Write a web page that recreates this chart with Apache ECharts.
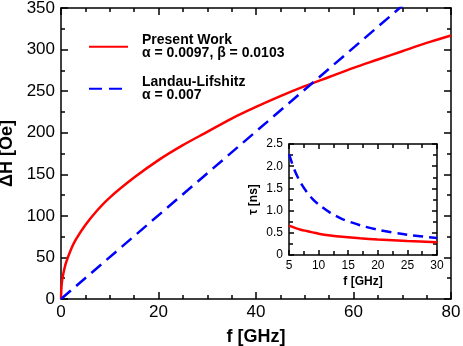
<!DOCTYPE html>
<html>
<head>
<meta charset="utf-8">
<script src="https://cdn.jsdelivr.net/npm/echarts@6/dist/echarts.min.js"></script>
<style>
html, body { margin: 0; padding: 0; background: #fff; }
#main { width: 463px; height: 346px; }
</style>
</head>
<body>
<div id="main"></div>
<script>
// main panel: linewidth vs frequency
var fMain = [0, 0.1, 0.25, 0.5, 1, 2, 3, 5, 7.5, 10, 15, 20, 25, 30, 35, 40, 45, 50, 55, 60, 65, 70, 75, 80];
var dhPresent = [0, 15, 23, 31, 43, 59, 71, 89, 107, 122, 146, 167, 185, 201, 217, 231, 244, 256, 267, 278, 288, 298, 308, 317];
var fLL = [0, 80];
var dhLL = [0, 403];

// inset: relaxation time
var fInset = [5, 6, 7, 8, 9, 10, 12, 14, 17, 20, 25, 30];
var tauPresent = [0.66, 0.61, 0.57, 0.54, 0.51, 0.48, 0.44, 0.41, 0.376, 0.35, 0.315, 0.287];
var tauLL = [2.27, 1.89, 1.62, 1.42, 1.26, 1.14, 0.95, 0.81, 0.67, 0.57, 0.455, 0.385];

var legendPresent = 'Present Work\nα = 0.0097, β = 0.0103';
var legendLL = 'Landau-Lifshitz\nα = 0.007';

function pairs(xs, ys) {
	var out = [];
	for (var i = 0; i < xs.length; i++) {
		out.push([xs[i], ys[i]]);
	}
	return out;
}

var FONT = '"Liberation Sans", Arial, sans-serif';

// common axis piece
function axis(opt) {
	var a = {
		type: 'value',
		min: opt.min,
		max: opt.max,
		interval: opt.interval,
		position: opt.position,
		gridIndex: opt.grid,
		axisLine: { show: true, onZero: false, lineStyle: { color: '#000', width: 1.5 } },
		axisTick: { show: true, inside: true, length: opt.tick, lineStyle: { color: '#000', width: 1.5 } },
		minorTick: { show: true, splitNumber: opt.minor, length: 4, lineStyle: { color: '#000', width: 1.5 } },
		splitLine: { show: false },
		axisLabel: { show: false }
	};
	if (opt.labels) {
		a.axisLabel = {
			show: true,
			color: '#000',
			fontFamily: FONT,
			fontSize: opt.fontSize,
			margin: opt.margin
		};
		if (opt.formatter) {
			a.axisLabel.formatter = opt.formatter;
		}
	}
	if (opt.name) {
		a.name = opt.name;
		a.nameLocation = 'middle';
		a.nameGap = opt.nameGap;
		a.nameTextStyle = { color: '#000', fontFamily: FONT, fontWeight: 'bold', fontSize: opt.nameSize };
	}
	return a;
}

var chart = echarts.init(document.getElementById('main'));

chart.setOption({
	animation: false,
	grid: [
		{ left: 61, right: 12, top: 8, bottom: 47, containLabel: false, outerBoundsMode: 'none' },
		{ left: 289, right: 26, top: 144, bottom: 91, containLabel: false, outerBoundsMode: 'none' }
	],
	legend: {
		orient: 'vertical',
		left: 88,
		top: 33,
		padding: 0,
		itemWidth: 39,
		itemHeight: 14,
		itemGap: 14.5,
		itemStyle: { opacity: 0, borderWidth: 0 },
		data: [legendPresent, legendLL],
		textStyle: { color: '#000', fontFamily: FONT, fontWeight: 'bold', fontSize: 14, lineHeight: 13.5, padding: [0, 0, 0, 9] }
	},
	xAxis: [
		axis({ grid: 0, position: 'bottom', min: 0, max: 80, interval: 20, minor: 4, tick: 7, labels: true, fontSize: 17, margin: 5,
			name: 'f [GHz]', nameGap: 29, nameSize: 18 }),
		axis({ grid: 0, position: 'top', min: 0, max: 80, interval: 20, minor: 4, tick: 7 }),
		axis({ grid: 1, position: 'bottom', min: 5, max: 30, interval: 5, minor: 2, tick: 5, labels: true, fontSize: 12, margin: 5,
			name: 'f [GHz]', nameGap: 21, nameSize: 12 }),
		axis({ grid: 1, position: 'top', min: 5, max: 30, interval: 5, minor: 2, tick: 5 })
	],
	yAxis: [
		axis({ grid: 0, position: 'left', min: 0, max: 350, interval: 50, minor: 2, tick: 7, labels: true, fontSize: 17, margin: 6,
			name: 'ΔH [Oe]', nameGap: 42, nameSize: 18 }),
		axis({ grid: 0, position: 'right', min: 0, max: 350, interval: 50, minor: 2, tick: 7 }),
		axis({ grid: 1, position: 'left', min: 0, max: 2.5, interval: 0.5, minor: 2, tick: 5, labels: true, fontSize: 12, margin: 6,
			formatter: function (v) { return v === 0 ? '0' : v.toFixed(1); },
			name: 'τ [ns]', nameGap: 29, nameSize: 12 }),
		axis({ grid: 1, position: 'right', min: 0, max: 2.5, interval: 0.5, minor: 2, tick: 5 })
	],
	series: [
		{
			name: legendPresent,
			type: 'line',
			xAxisIndex: 0,
			yAxisIndex: 0,
			data: pairs(fMain, dhPresent),
			symbol: 'none',
			smooth: 0.3,
			color: '#ff0000',
			lineStyle: { color: '#ff0000', width: 2.5 }
		},
		{
			name: legendLL,
			type: 'line',
			xAxisIndex: 0,
			yAxisIndex: 0,
			data: pairs(fLL, dhLL),
			symbol: 'none',
			clip: true,
			color: '#0000ff',
			lineStyle: { color: '#0000ff', width: 2.5, type: [13, 7] }
		},
		{
			name: 'tauPresent',
			type: 'line',
			xAxisIndex: 2,
			yAxisIndex: 2,
			data: pairs(fInset, tauPresent),
			symbol: 'none',
			smooth: 0.3,
			lineStyle: { color: '#ff0000', width: 2.5 }
		},
		{
			name: 'tauLL',
			type: 'line',
			xAxisIndex: 2,
			yAxisIndex: 2,
			data: pairs(fInset, tauLL),
			symbol: 'none',
			smooth: 0.3,
			lineStyle: { color: '#0000ff', width: 2.5, type: [10, 6] }
		}
	]
});
</script>
</body>
</html>
